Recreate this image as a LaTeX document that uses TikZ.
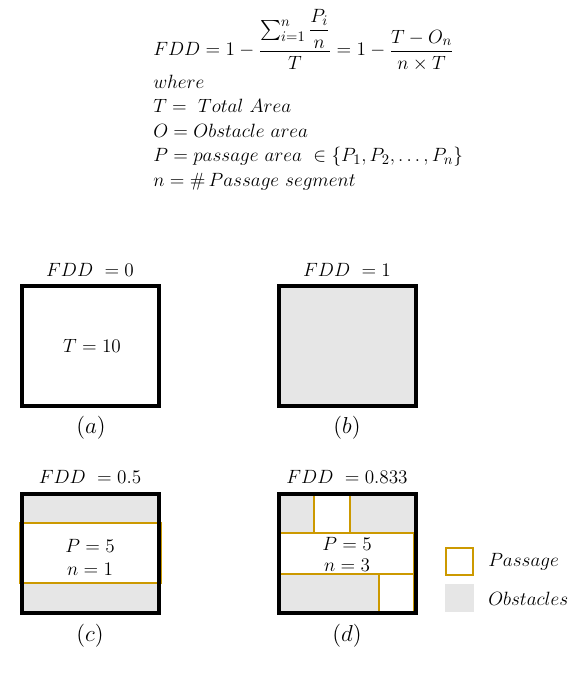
\documentclass[tikz,border=0pt]{standalone}
\usepackage{amsmath}
\usepackage{amssymb}

\definecolor{obst}{RGB}{230,230,230}
\definecolor{gold}{RGB}{204,153,0}
\tikzset{
	frame/.style={draw=black,line width=3pt},
	passage/.style={draw=gold,line width=1.1pt,fill=white},
	txt/.style={font=\fontsize{15}{18}\selectfont,inner sep=0pt},
	legtxt/.style={font=\fontsize{15}{18}\selectfont,inner sep=0pt,anchor=west},
}

\begin{document}
\begin{tikzpicture}[x=0.75pt,y=-0.75pt]
	\useasboundingbox (0,0) rectangle (582,673);
	% definition block
	\node[txt,anchor=base west] (fdd) at (153,56)
		{$FDD = 1-\dfrac{\sum_{i=1}^{n}\dfrac{P_i}{n}}{T} = 1-\dfrac{T-O_n}{n\times T}$};
	\node[txt,anchor=west] (where) at (153,82) {$where$};
	\node[txt,anchor=west] (defT) at (153,106) {$T =\ Total\ Area$};
	\node[txt,anchor=west] (defO) at (153,131) {$O = Obstacle\ area$};
	\node[txt,anchor=west] (defP) at (153,157) {$P = passage\ area\ \in \{P_1, P_2, \dots, P_n\}$};
	\node[txt,anchor=west] (defn) at (153,182) {$n = \#\,Passage\ segment$};

	% (a) empty area
	\draw[frame] (22,286) rectangle (159,406);
	\path (90,270) node[txt] (fdda) {$FDD\ = 0$}
		(92,346) node[txt] (tota) {$T = 10$}
		(91,428) node[txt,scale=1.2] (capa) {$(a)$};

	% (b) fully blocked
	\draw[frame,fill=obst] (279,286) rectangle (416,406);
	\path (347,270) node[txt] (fddb) {$FDD\ = 1$}
		(347,428) node[txt,scale=1.2] (capb) {$(b)$};

	% (c) one passage
	\fill[obst] (22,494) rectangle (159,613);
	\draw[passage] (20,523) rectangle (161,583);
	\draw[frame] (22,494) rectangle (159,613);
	\path (90,477) node[txt] (fddc) {$FDD\ = 0.5$}
		(90,546) node[txt] (pc) {$P = 5$}
		(90,569) node[txt] (nc) {$n = 1$}
		(90,636) node[txt,scale=1.2] (capc) {$(c)$};

	% (d) three passages
	\fill[obst] (279,494) rectangle (416,613);
	\draw[passage] (314,494) rectangle (350,533);
	\draw[passage] (278,533) rectangle (413.5,574);
	\draw[passage] (379,574) rectangle (413.5,614);
	\draw[frame] (279,494) rectangle (416,613);
	\path (347,477) node[txt] (fddd) {$FDD\ = 0.833$}
		(347,544) node[txt] (pd) {$P = 5$}
		(347,565) node[txt] (nd) {$n = 3$}
		(347,636) node[txt,scale=1.2] (capd) {$(d)$};

	% legend
	\draw[gold,line width=1.5pt,fill=white] (446,548) rectangle (473,575);
	\fill[obst] (445,584) rectangle (474,612);
	\path (488,562) node[legtxt] (legp) {$Passage$}
		(488,599) node[legtxt] (lego) {$Obstacles$};
\end{tikzpicture}
\end{document}
